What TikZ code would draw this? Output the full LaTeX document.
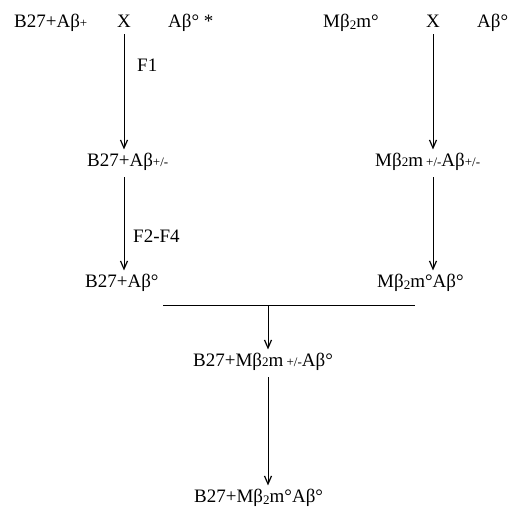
\documentclass[tikz,border=0pt]{standalone}
\usepackage{fontspec}
\setmainfont{Liberation Serif}
\usetikzlibrary{arrows.meta}
\newcommand{\lo}[1]{{\fontsize{13}{13}\selectfont #1}}
\newcommand{\sub}[1]{\raisebox{-0.3ex}{\fontsize{13}{13}\selectfont #1}}
\begin{document}
\begin{tikzpicture}[x=1pt,y=-1pt,
  lbl/.style={inner sep=0pt,font=\fontsize{19}{21}\selectfont,anchor=base west},
  flow/.style={draw,line width=1pt,shorten <=7pt,shorten >=3pt,
    -{Straight Barb[length=8pt,width=7pt,line width=1.2pt]}},
  bar/.style={draw,line width=1pt}]
\useasboundingbox (0,0) rectangle (514,512);
% top row, left cross
\node[lbl] (a1) at (14,27) {B27+Aβ\lo{+}};
\node[lbl,anchor=base] (x1) at (124,27) {X};
\node[lbl] (a2) at (168,27) {Aβ° *};
% top row, right cross
\node[lbl] (m1) at (323,27) {Mβ\sub{2}m°};
\node[lbl,anchor=base] (x2) at (433,27) {X};
\node[lbl] (m2) at (477,27) {Aβ°};
% intermediates
\node[lbl] (b1) at (87,166) {B27+Aβ\lo{+/-}};
\node[lbl] (n1) at (375,166) {Mβ\lo{2}m\,\lo{+/-}Aβ\lo{+/-}};
\node[lbl] (b2) at (85,287) {B27+Aβ°};
\node[lbl] (n2) at (377,287) {Mβ\sub{2}m°Aβ°};
\node[lbl] (c1) at (193,366) {B27+Mβ\lo{2}m\,\lo{+/-}Aβ°};
\node[lbl] (c2) at (194,502) {B27+Mβ\sub{2}m°Aβ°};
% step labels
\node[lbl] (f1) at (137,71) {F1};
\node[lbl] (f2) at (133,242) {F2-F4};
% left column
\draw[flow] (x1.south) -- (x1.south |- b1.north);
\draw[flow] (x1.south |- b1.south) -- (x1.south |- b2.north);
% right column
\draw[flow] (x2.south) -- (x2.south |- n1.north);
\draw[flow] (x2.south |- n1.south) -- (x2.south |- n2.north);
% joining bar
\coordinate (hl) at (163,305);
\coordinate (hr) at (415,305);
\coordinate (hm) at (268,305);
\draw[bar] (hl) -- (hr);
\draw[flow,shorten <=0pt] (hm) -- (hm |- c1.north);
\draw[flow] (hm |- c1.south) -- (hm |- c2.north);
\end{tikzpicture}
\end{document}
